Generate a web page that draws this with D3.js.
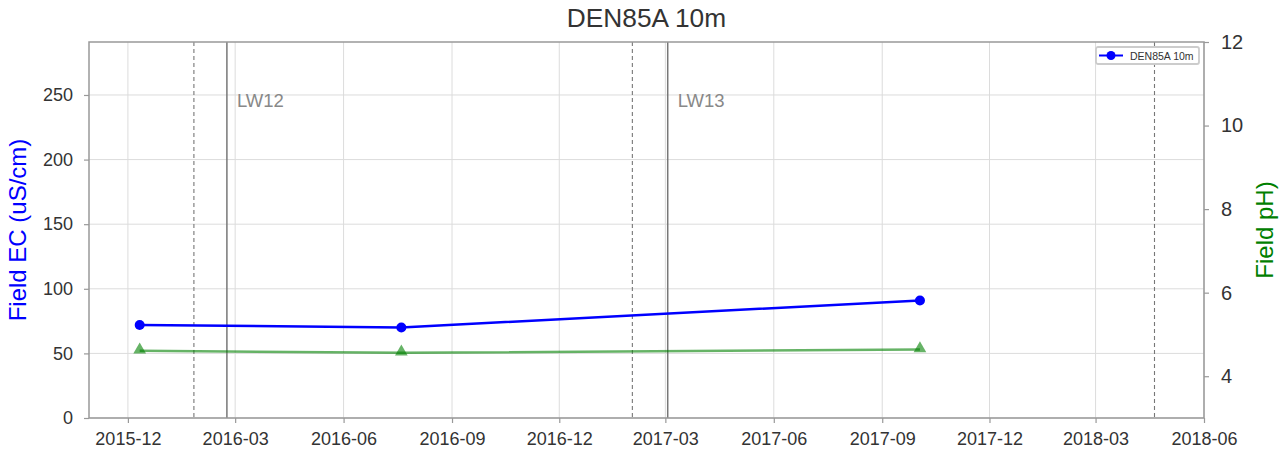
<!DOCTYPE html>
<html>
<head>
<meta charset="utf-8">
<script src="https://cdn.jsdelivr.net/npm/d3@7"></script>
<style>
  body { margin: 0; background: #fff; }
  text { font-family: "Liberation Sans", Arial, sans-serif; }
</style>
</head>
<body>
<div id="chart"></div>
<script>
// sample dates and readings
const dates = ["2015-12-11", "2016-07-20", "2017-10-03"];
const ec = [72, 70, 91];
const ph = [4.61, 4.56, 4.64];

// longwall markers
const lwLabels = ["LW12", "LW13"];
const lwStart = ["2016-01-26", "2017-02-01"];
const lwEnd = ["2016-02-23", "2017-03-03"];
const extraDashed = ["2018-04-20"];

const xTicks = ["2015-12", "2016-03", "2016-06", "2016-09", "2016-12", "2017-03",
                "2017-06", "2017-09", "2017-12", "2018-03", "2018-06"];
const ecTicks = [0, 50, 100, 150, 200, 250];
const phTicks = [4, 6, 8, 10, 12];

const W = 1288, H = 459;
const m = { left: 89, right: 84, top: 42, bottom: 41 };
const parse = d3.timeParse("%Y-%m-%d");
const parseMonth = d3.timeParse("%Y-%m");

const svg = d3.select("#chart").append("svg")
  .attr("width", W)
  .attr("height", H);

const x = d3.scaleTime()
  .domain([parse("2015-10-29"), parse("2018-06-01")])
  .range([m.left, W - m.right]);

const yL = d3.scaleLinear()
  .domain([0, 291])
  .range([H - m.bottom, m.top]);

const yR = d3.scaleLinear()
  .domain([3, 12])
  .range([H - m.bottom, m.top]);

// grid
const grid = svg.append("g");
grid.selectAll(".gx")
  .data(xTicks)
  .enter().append("line")
  .attr("x1", d => x(parseMonth(d)))
  .attr("x2", d => x(parseMonth(d)))
  .attr("y1", m.top)
  .attr("y2", H - m.bottom)
  .attr("stroke", "#dcdcdc")
  .attr("stroke-width", 1);

grid.selectAll(".gy")
  .data(ecTicks)
  .enter().append("line")
  .attr("x1", m.left)
  .attr("x2", W - m.right)
  .attr("y1", d => yL(d))
  .attr("y2", d => yL(d))
  .attr("stroke", "#dcdcdc")
  .attr("stroke-width", 1);

// longwall lines
const lw = svg.append("g");
lw.selectAll(".dash")
  .data(lwStart.concat(extraDashed))
  .enter().append("line")
  .attr("x1", d => x(parse(d)))
  .attr("x2", d => x(parse(d)))
  .attr("y1", m.top)
  .attr("y2", H - m.bottom)
  .attr("stroke", "#777")
  .attr("stroke-width", 1.1)
  .attr("stroke-dasharray", "4,3");

lw.selectAll(".solid")
  .data(lwEnd)
  .enter().append("line")
  .attr("x1", d => x(parse(d)))
  .attr("x2", d => x(parse(d)))
  .attr("y1", m.top)
  .attr("y2", H - m.bottom)
  .attr("stroke", "#777")
  .attr("stroke-width", 1.5);

lw.selectAll(".lbl")
  .data(lwLabels)
  .enter().append("text")
  .attr("x", (d, i) => x(parse(lwEnd[i])) + 10)
  .attr("y", 107)
  .attr("fill", "#888")
  .attr("font-size", 18.5)
  .text(d => d);

// pH series
const phLine = d3.line()
  .x((d, i) => x(parse(dates[i])))
  .y(d => yR(d));

svg.append("path")
  .datum(ph)
  .attr("d", phLine)
  .attr("fill", "none")
  .attr("stroke", "green")
  .attr("stroke-opacity", 0.6)
  .attr("stroke-width", 2.5);

svg.selectAll(".tri")
  .data(ph)
  .enter().append("path")
  .attr("d", d3.symbol().type(d3.symbolTriangle).size(70))
  .attr("transform", (d, i) => `translate(${x(parse(dates[i]))},${yR(d) - 1})`)
  .attr("fill", "green")
  .attr("fill-opacity", 0.6);

// EC series
const ecLine = d3.line()
  .x((d, i) => x(parse(dates[i])))
  .y(d => yL(d));

svg.append("path")
  .datum(ec)
  .attr("d", ecLine)
  .attr("fill", "none")
  .attr("stroke", "blue")
  .attr("stroke-width", 2.5);

svg.selectAll(".dot")
  .data(ec)
  .enter().append("circle")
  .attr("cx", (d, i) => x(parse(dates[i])))
  .attr("cy", d => yL(d))
  .attr("r", 5)
  .attr("fill", "blue");

// frame
svg.append("rect")
  .attr("x", m.left)
  .attr("y", m.top)
  .attr("width", W - m.left - m.right)
  .attr("height", H - m.top - m.bottom)
  .attr("fill", "none")
  .attr("stroke", "#999")
  .attr("stroke-width", 1.5);

// axes
const axB = svg.append("g")
  .attr("transform", `translate(0,${H - m.bottom})`)
  .call(d3.axisBottom(x)
    .tickValues(xTicks.map(parseMonth))
    .tickFormat(d3.timeFormat("%Y-%m"))
    .tickSize(5)
    .tickPadding(9));

const axL = svg.append("g")
  .attr("transform", `translate(${m.left},0)`)
  .call(d3.axisLeft(yL).tickValues(ecTicks).tickSize(5).tickPadding(11));

const axR = svg.append("g")
  .attr("transform", `translate(${W - m.right},0)`)
  .call(d3.axisRight(yR).tickValues(phTicks).tickSize(5).tickPadding(12));

[axB, axL, axR].forEach(a => {
  a.select(".domain").remove();
  a.selectAll(".tick line").attr("stroke", "#999").attr("stroke-width", 1.2);
  a.selectAll(".tick text").attr("fill", "#333").attr("font-family", "Liberation Sans, Arial, sans-serif");
});
axB.selectAll(".tick text").attr("font-size", 18);
axL.selectAll(".tick text").attr("font-size", 18);
axR.selectAll(".tick text").attr("font-size", 20);

// titles
svg.append("text")
  .attr("x", (m.left + W - m.right) / 2)
  .attr("y", 27)
  .attr("text-anchor", "middle")
  .attr("fill", "#333")
  .attr("font-size", 26.3)
  .text("DEN85A 10m");

svg.append("text")
  .attr("transform", `translate(26,${(m.top + H - m.bottom) / 2}) rotate(-90)`)
  .attr("text-anchor", "middle")
  .attr("fill", "blue")
  .attr("font-size", 24)
  .text("Field EC (uS/cm)");

svg.append("text")
  .attr("transform", `translate(1273,${(m.top + H - m.bottom) / 2}) rotate(-90)`)
  .attr("text-anchor", "middle")
  .attr("fill", "green")
  .attr("font-size", 24)
  .text("Field pH)");

// legend
const lg = svg.append("g").attr("transform", "translate(1096,47)");
lg.append("rect")
  .attr("width", 103)
  .attr("height", 17)
  .attr("rx", 2)
  .attr("fill", "#fff")
  .attr("stroke", "#ccc")
  .attr("stroke-width", 1.8);
lg.append("line")
  .attr("x1", 3).attr("x2", 27)
  .attr("y1", 8.5).attr("y2", 8.5)
  .attr("stroke", "blue")
  .attr("stroke-width", 2);
lg.append("circle")
  .attr("cx", 15).attr("cy", 8.5).attr("r", 4.5)
  .attr("fill", "blue");
lg.append("text")
  .attr("x", 34).attr("y", 12.5)
  .attr("font-size", 10.5)
  .attr("fill", "#333")
  .text("DEN85A 10m");
</script>
</body>
</html>
